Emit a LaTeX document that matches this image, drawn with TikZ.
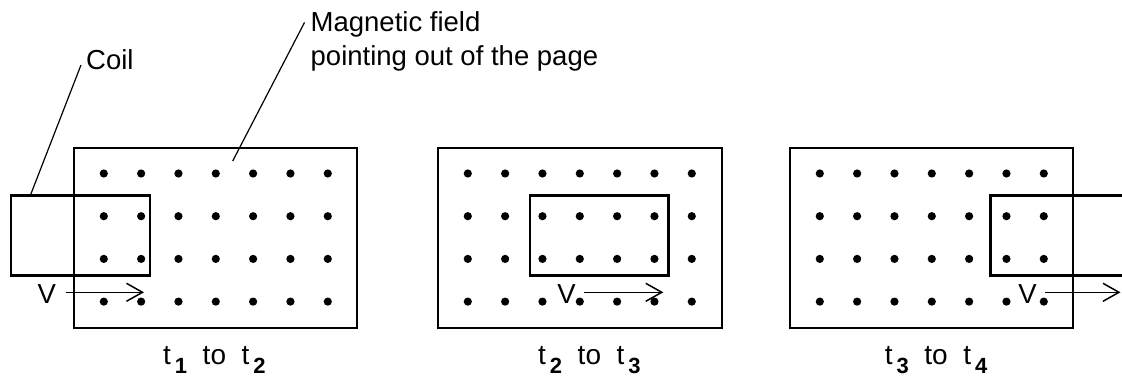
\documentclass[tikz,border=0pt]{standalone}
\usepackage{fontspec}
\setmainfont{Liberation Sans}
\usetikzlibrary{arrows.meta}
\newcommand{\subd}[1]{\hspace{4pt}\raisebox{-8.5pt}{\fontsize{22}{22}\selectfont\bfseries #1}}
\newcommand{\capt}[2]{t\subd{#1}\hspace{15.5pt}to\hspace{15.5pt}t\subd{#2}}
\begin{document}
\begin{tikzpicture}[x=1pt,y=-1pt,
  fieldbox/.style={line width=2.5pt},
  coilbox/.style={line width=2.5pt},
  leader/.style={line width=1.2pt},
  vel/.style={line width=1.5pt,-{Straight Barb[length=16pt,width=18pt,line width=1.5pt]}},
  lbl/.style={font=\fontsize{27.5}{34}\selectfont, inner sep=0pt},
  caplbl/.style={font=\fontsize{28}{34}\selectfont, inner sep=0pt, anchor=base west},
]
\useasboundingbox (0,0) rectangle (1122,377);

% field regions and dots
\foreach \L/\R in {74/357, 438/722, 790/1073}{
  \draw[fieldbox] (\L,148) rectangle (\R,328);
  \foreach \i in {0,...,6}{
    \foreach \j in {0,...,3}{
      \fill ({\L+29.8+37.33*\i},{173.5+42.7*\j}) circle[radius=4.1pt];
    }
  }
}

% coils
\draw[coilbox] (11,195.7) rectangle (150,275.7);
\draw[coilbox] (530,195.7) rectangle (668.3,275.7);
\draw[coilbox] (1124,195.7) -- (990.7,195.7) -- (990.7,275.7) -- (1124,275.7);

% labels
\node[lbl, anchor=base west] (coiltxt) at (86,69.5) {Coil};
\node[lbl, anchor=base west] (fieldtxt) at (310.5,31.7)
  {\begin{tabular}[t]{@{}l@{}}Magnetic field\\pointing out of the page\end{tabular}};
\coordinate (coilpt) at (30.7,194.5);
\coordinate (coilend) at (81,65);
\coordinate (fieldpt) at (232.7,161);
\coordinate (fieldend) at (304.5,22.5);
\draw[leader] (coilpt) -- (coilend);
\draw[leader] (fieldpt) -- (fieldend);

% velocities
\node[lbl, anchor=base] (v1) at (46.7,303) {V};
\node[lbl, anchor=base] (v2) at (566.5,303) {V};
\node[lbl, anchor=base] (v3) at (1027.5,303) {V};
\coordinate (a1s) at (65.7,292.3);  \coordinate (a1e) at (144,292.3);
\coordinate (a2s) at (584,292.3);   \coordinate (a2e) at (663.3,292.3);
\coordinate (a3s) at (1045,292.3);  \coordinate (a3e) at (1120.5,292.3);
\draw[vel] (a1s) -- (a1e);
\draw[vel] (a2s) -- (a2e);
\draw[vel] (a3s) -- (a3e);

% time captions
\node[caplbl] (cap1) at (163,364.5) {\capt{1}{2}};
\node[caplbl] (cap2) at (538,364.5) {\capt{2}{3}};
\node[caplbl] (cap3) at (884.7,364.5) {\capt{3}{4}};
\end{tikzpicture}
\end{document}
